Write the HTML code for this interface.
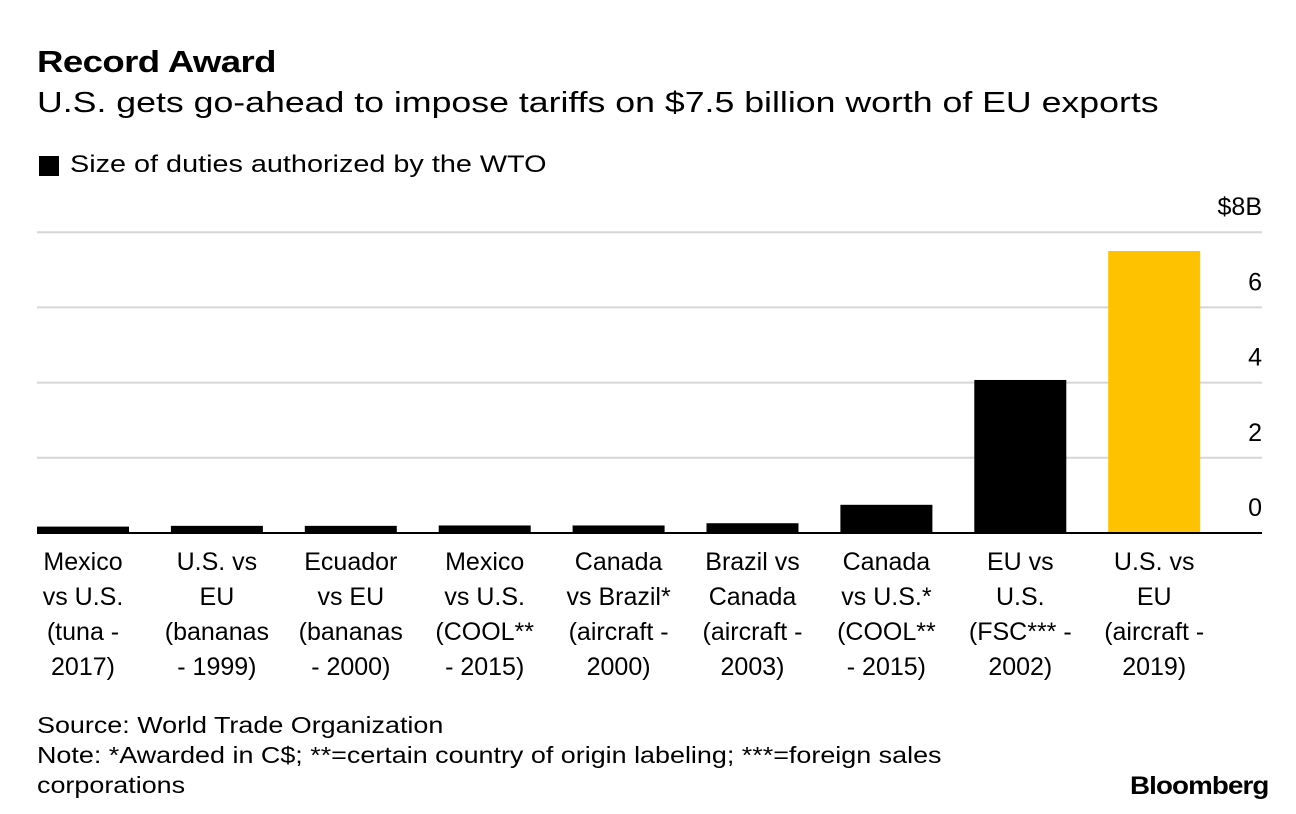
<!DOCTYPE html>
<html><head><meta charset="utf-8"><style>
body{margin:0;background:#fff;width:1296px;height:814px;overflow:hidden;font-family:"Liberation Sans",Arial,sans-serif;color:#000}
.t{position:absolute;white-space:nowrap;transform-origin:left top}
</style></head><body>
<div class="t" style="left:37px;top:44px;font-size:31px;font-weight:bold;letter-spacing:-0.5px;transform:scaleX(1.18)">Record Award</div>
<div class="t" style="left:37px;top:87px;font-size:29px;transform:scaleX(1.23)">U.S. gets go-ahead to impose tariffs on $7.5 billion worth of EU exports</div>
<div style="position:absolute;left:39px;top:156px;width:20px;height:20px;background:#000"></div>
<div class="t" style="left:70px;top:151px;font-size:24px;transform:scaleX(1.2)">Size of duties authorized by the WTO</div>
<svg id="chart" width="1296" height="814" style="position:absolute;left:0;top:0"></svg>
<div class="t" style="left:37px;top:710px;font-size:23px;line-height:30px;transform:scaleX(1.17)">Source: World Trade Organization<br>Note: *Awarded in C$; **=certain country of origin labeling; ***=foreign sales<br>corporations</div>
<div class="t" style="left:1130px;top:772px;font-size:25px;font-weight:bold;letter-spacing:-0.8px;transform:scaleX(1.11)">Bloomberg</div>
<script>
const categories=[["Mexico","vs U.S.","(tuna -","2017)"],["U.S. vs","EU","(bananas","- 1999)"],["Ecuador","vs EU","(bananas","- 2000)"],["Mexico","vs U.S.","(COOL**","- 2015)"],["Canada","vs Brazil*","(aircraft -","2000)"],["Brazil vs","Canada","(aircraft -","2003)"],["Canada","vs U.S.*","(COOL**","- 2015)"],["EU vs","U.S.","(FSC*** -","2002)"],["U.S. vs","EU","(aircraft -","2019)"]];
const values=[0.17,0.19,0.19,0.2,0.2,0.26,0.75,4.07,7.5];
const ticks=[0,2,4,6,8];
const tickLabels=["0","2","4","6","$8B"];
const svg=document.getElementById('chart');
const NS='http://www.w3.org/2000/svg';
const y=v=>533-v*37.6;
const x=i=>37+i*133.9;
const bw=92;
function mk(t,a){const e=document.createElementNS(NS,t);for(const k in a)e.setAttribute(k,a[k]);svg.appendChild(e);return e;}
ticks.forEach((t,i)=>{
  const l=mk('line',{x1:37,x2:1262,y1:y(t),y2:y(t),stroke:i===0?'#000':'#d6d6d6','stroke-width':2});
  
  
  const tx=mk('text',{x:1262,y:y(t)-17,'text-anchor':'end','font-size':25,'font-family':'Liberation Sans, Arial, sans-serif'});
  tx.textContent=tickLabels[i];
  
  
});
values.forEach((v,i)=>{
  const r=mk('rect',{x:x(i),y:y(v),width:bw,height:533-y(v),fill:i===values.length-1?'#ffc200':'#000'});
  
  
  categories[i].forEach((s,j)=>{
    const tx=mk('text',{x:x(i)+bw/2,y:570+j*35,'text-anchor':'middle','font-size':25,'font-family':'Liberation Sans, Arial, sans-serif'});
    tx.textContent=s;
    
    
  });
});
const b=mk('line',{x1:37,x2:1262,y1:533,y2:533,stroke:'#000','stroke-width':2});


</script>
</body></html>
